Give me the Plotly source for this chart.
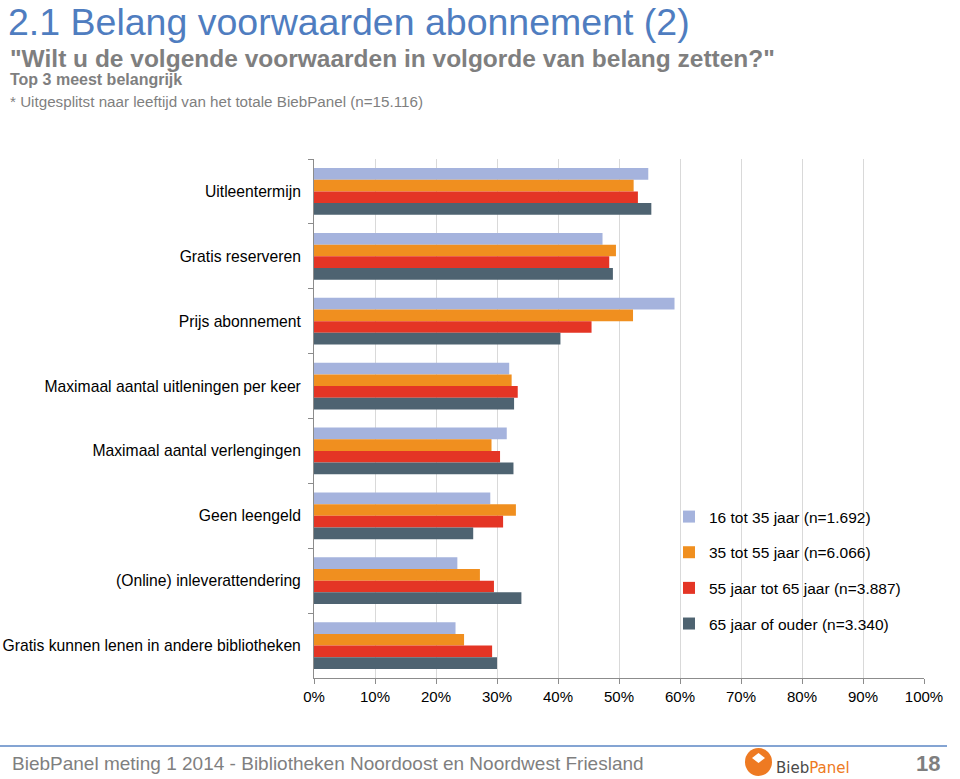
import plotly.graph_objects as go

categories = [
    "Uitleentermijn",
    "Gratis reserveren",
    "Prijs abonnement",
    "Maximaal aantal uitleningen per keer",
    "Maximaal aantal verlengingen",
    "Geen leengeld",
    "(Online) inleverattendering",
    "Gratis kunnen lenen in andere bibliotheken",
]
series_names = [
    "16 tot 35 jaar (n=1.692)",
    "35 tot 55 jaar (n=6.066)",
    "55 jaar tot 65 jaar (n=3.887)",
    "65 jaar of ouder (n=3.340)",
]
age_16_35 = [54.8, 47.3, 59.1, 32.0, 31.6, 28.9, 23.5, 23.2]
age_35_55 = [52.4, 49.5, 52.3, 32.4, 29.1, 33.1, 27.2, 24.6]
age_55_65 = [53.1, 48.4, 45.5, 33.4, 30.5, 31.0, 29.5, 29.2]
age_65_plus = [55.3, 49.0, 40.4, 32.8, 32.7, 26.1, 34.0, 30.0]
colors = ["#A5B3DD", "#F08F1F", "#E43525", "#4E6371"]
x_ticks = [0, 10, 20, 30, 40, 50, 60, 70, 80, 90, 100]

title_text = "2.1 Belang voorwaarden abonnement (2)"
subtitle_text = "\"Wilt u de volgende voorwaarden in volgorde van belang zetten?\""
note1_text = "Top 3 meest belangrijk"
note2_text = "* Uitgesplitst naar leeftijd van het totale BiebPanel (n=15.116)"

W, H = 960, 779
L, R, T, B = 314, 924, 159, 678


def px(x):
    return (x - L) / (R - L)


def py(y):
    return (B - y) / (B - T)


fig = go.Figure()
for i, (name, vals) in enumerate(zip(series_names, [age_16_35, age_35_55, age_55_65, age_65_plus])):
    fig.add_trace(go.Bar(
        y=categories, x=[v / 100 for v in vals], name=name, orientation="h",
        marker=dict(color=colors[i], line=dict(width=0)), legendgroup=str(i),
    ))

fig.update_layout(
    width=W, height=H,
    margin=dict(l=L, r=W - R, t=T, b=H - B, autoexpand=False),
    paper_bgcolor="white", plot_bgcolor="white",
    font=dict(family="Liberation Sans, Arial, sans-serif", size=15, color="#000000"),
    barmode="group", bargap=0.28, bargroupgap=0,
    showlegend=True,
    legend=dict(x=px(669), y=py(500), xanchor="left", yanchor="top",
                bgcolor="rgba(0,0,0,0)", font=dict(size=15.5, color="#000000"),
                traceorder="grouped", tracegroupgap=12.5, itemwidth=30),
    xaxis=dict(range=[0, 1], tickvals=[t / 100 for t in x_ticks],
               ticktext=[f"{t}%" for t in x_ticks],
               showgrid=True, gridcolor="#D9D9D9", gridwidth=1,
               showline=True, linecolor="#8C8C8C", linewidth=1,
               ticks="outside", ticklen=5, tickcolor="#8C8C8C",
               zeroline=False, tickfont=dict(size=15), automargin=False),
    yaxis=dict(autorange="reversed", showline=True, linecolor="#8C8C8C", linewidth=1,
               ticks="outside", ticklen=5, tickcolor="#8C8C8C", tickson="boundaries",
               showgrid=False, tickfont=dict(size=15.7), ticklabelstandoff=9,
               automargin=False),
)

title_font = "Liberation Sans, Arial, sans-serif"
fig.add_annotation(text=title_text, xref="paper", yref="paper",
                   x=px(7), y=py(0), xanchor="left", yanchor="top", showarrow=False, borderpad=0,
                   font=dict(family=title_font, size=37.5, color="#4F7DC0"))
fig.add_annotation(text=f"<b>{subtitle_text}</b>", xref="paper", yref="paper",
                   x=px(9), y=py(43.5), xanchor="left", yanchor="top", showarrow=False, borderpad=0,
                   font=dict(family=title_font, size=24.5, color="#7F7F7F"))
fig.add_annotation(text=f"<b>{note1_text}</b>", xref="paper", yref="paper",
                   x=px(9), y=py(70), xanchor="left", yanchor="top", showarrow=False, borderpad=0,
                   font=dict(family=title_font, size=16, color="#7F7F7F"))
fig.add_annotation(text=note2_text, xref="paper", yref="paper",
                   x=px(9), y=py(92), xanchor="left", yanchor="top", showarrow=False, borderpad=0,
                   font=dict(family=title_font, size=15.2, color="#7F7F7F"))

# footer
fig.add_shape(type="line", xref="paper", yref="paper", x0=px(0), x1=px(947), y0=py(746), y1=py(746),
              line=dict(color="#5B86C5", width=1.5))
fig.add_annotation(text="BiebPanel meting 1 2014 - Bibliotheken Noordoost en Noordwest Friesland",
                   xref="paper", yref="paper", x=px(10), y=py(763), xanchor="left", yanchor="middle",
                   showarrow=False, font=dict(family=title_font, size=19, color="#7F7F7F"))
fig.add_annotation(text="<b>18</b>", xref="paper", yref="paper", x=px(942), y=py(763),
                   xanchor="right", yanchor="middle", showarrow=False,
                   font=dict(family=title_font, size=22, color="#7F7F7F"))
# logo
fig.add_shape(type="circle", xref="paper", yref="paper", x0=px(745), x1=px(772), y0=py(776), y1=py(748),
              fillcolor="#EE7A22", line=dict(width=0))
fig.add_shape(type="path", xref="paper", yref="paper",
              path=f"M {px(752)} {py(758)} L {px(758.5)} {py(753)} L {px(765)} {py(758)} L {px(758.5)} {py(763)} Z",
              fillcolor="white", line=dict(width=0))
fig.add_annotation(text="<span style='color:#4A4A4A'>Bieb</span><span style='color:#EE7A22'>Panel</span>",
                   xref="paper", yref="paper", x=px(774), y=py(768), xanchor="left", yanchor="middle",
                   showarrow=False, font=dict(family="DejaVu Sans, sans-serif", size=15))

fig.write_html("out.html")
